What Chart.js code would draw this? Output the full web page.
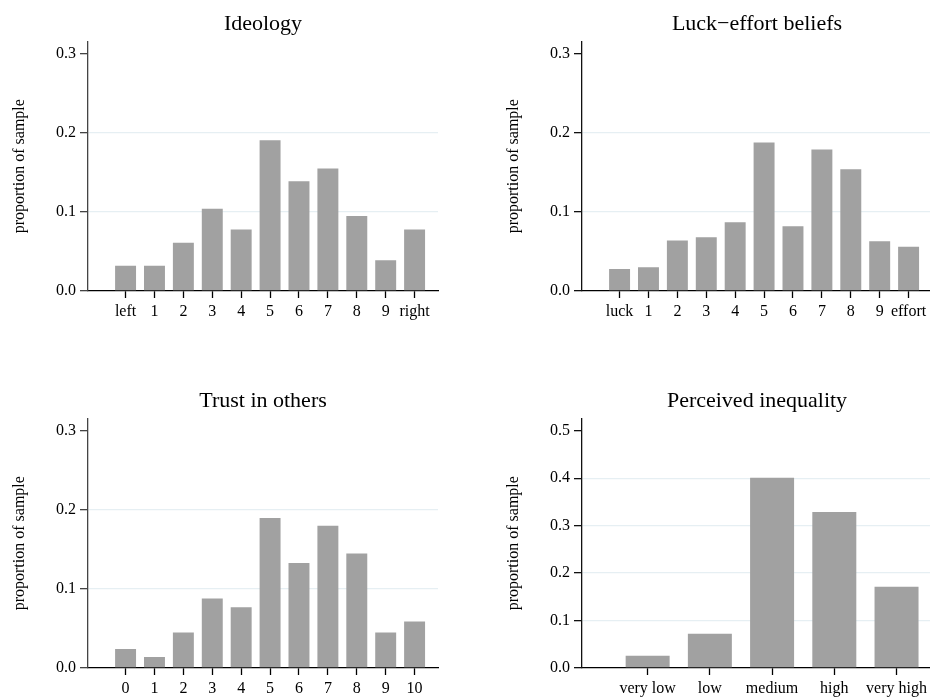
<!DOCTYPE html>
<html>
<head>
<meta charset="utf-8">
<script src="https://cdn.jsdelivr.net/npm/chart.js@4/dist/chart.umd.min.js"></script>
<style>
	html, body { margin: 0; padding: 0; background: #fff; overflow: hidden; }
	body { width: 930px; height: 698px; position: relative; }
	canvas { position: absolute; }
</style>
</head>
<body>
<canvas id="ideology" width="465" height="330" style="left:0px;top:0px;width:465px;height:330px"></canvas>
<canvas id="luckEffort" width="465" height="330" style="left:494px;top:0px;width:465px;height:330px"></canvas>
<canvas id="trust" width="465" height="330" style="left:0px;top:377px;width:465px;height:330px"></canvas>
<canvas id="inequality" width="465" height="330" style="left:494px;top:377px;width:465px;height:330px"></canvas>

<script>
// categories
const ideologyLabels = ['left', '1', '2', '3', '4', '5', '6', '7', '8', '9', 'right'];
const luckEffortLabels = ['luck', '1', '2', '3', '4', '5', '6', '7', '8', '9', 'effort'];
const trustLabels = ['0', '1', '2', '3', '4', '5', '6', '7', '8', '9', '10'];
const inequalityLabels = ['very low', 'low', 'medium', 'high', 'very high'];

// proportion of sample
const ideologyValues = [0.032, 0.032, 0.061, 0.104, 0.078, 0.191, 0.139, 0.155, 0.095, 0.039, 0.078];
const luckEffortValues = [0.028, 0.030, 0.064, 0.068, 0.087, 0.188, 0.082, 0.179, 0.154, 0.063, 0.056];
const trustValues = [0.024, 0.014, 0.045, 0.088, 0.077, 0.190, 0.133, 0.180, 0.145, 0.045, 0.059];
const inequalityValues = [0.026, 0.072, 0.401, 0.329, 0.171];

// y tick labels
const smallTicks = [0, 0.1, 0.2, 0.3];
const bigTicks = [0, 0.1, 0.2, 0.3, 0.4, 0.5];

const FONT = "'Liberation Serif', 'DejaVu Serif', serif";
const BAR = '#a1a1a1';

function makeChart(id, title, labels, values, yTicks, opts)
{
	const topTick = yTicks[yTicks.length - 1];
	new Chart(document.getElementById(id), {
		type: 'bar',
		data: {
			datasets: [{
				data: values.map((v, i) => ({ x: i, y: v })),
				backgroundColor: BAR,
				borderWidth: 0,
				barPercentage: opts.barPct,
				categoryPercentage: 1
			}]
		},
		options: {
			responsive: false,
			animation: false,
			events: [],
			layout: { padding: { left: 0, right: 27, top: 0, bottom: 0 } },
			plugins: {
				legend: { display: false },
				tooltip: { enabled: false },
				title: {
					display: true,
					text: title,
					fullSize: false,
					color: '#000',
					font: { family: FONT, size: 22, weight: 'normal' },
					padding: { top: 11, bottom: 4 }
				}
			},
			scales: {
				x: {
					type: 'linear',
					offset: false,
					min: opts.xMin,
					max: opts.xMax,
					afterBuildTicks: function(scale) {
						scale.ticks = labels.map((l, i) => ({ value: i }));
					},
					afterFit: function(scale) { scale.height = 39; },
					ticks: {
						autoSkip: false,
						maxRotation: 0,
						padding: 4,
						color: '#000',
						font: { family: FONT, size: 16 },
						callback: function(value) { return labels[value]; }
					},
					grid: {
						offset: false,
						drawOnChartArea: false,
						drawTicks: true,
						tickLength: 7,
						tickColor: '#000',
						tickWidth: 1.3
					},
					border: { display: true, color: '#000', width: 1.3 }
				},
				y: {
					min: 0,
					max: opts.yMax,
					afterBuildTicks: function(scale) {
						scale.ticks = yTicks.map(v => ({ value: v }));
					},
					afterFit: function(scale) { scale.width = 88; },
					ticks: {
						padding: 4,
						color: '#000',
						font: { family: FONT, size: 16 },
						callback: function(value) { return value.toFixed(1); }
					},
					grid: {
						color: function(ctx) {
							const v = ctx.tick ? ctx.tick.value : 0;
							return (v > 0 && v < topTick) ? '#e6eff3' : 'rgba(0,0,0,0)';
						},
						lineWidth: 1.3,
						tickLength: 8,
						tickColor: opts.axisColor,
						tickWidth: 1.3
					},
					border: { display: true, color: opts.axisColor, width: 1.3 },
					title: {
						display: true,
						text: 'proportion of sample',
						color: '#000',
						font: { family: FONT, size: 16 },
						padding: { top: 10, bottom: 0 }
					}
				}
			}
		}
	});
}

makeChart('ideology', 'Ideology', ideologyLabels, ideologyValues, smallTicks,
	{ xMin: -1.3, xMax: 10.81, yMax: 0.316, barPct: 0.725, axisColor: '#444' });
makeChart('luckEffort', 'Luck\u2212effort beliefs', luckEffortLabels, luckEffortValues, smallTicks,
	{ xMin: -1.3, xMax: 10.81, yMax: 0.316, barPct: 0.725, axisColor: '#111' });
makeChart('trust', 'Trust in others', trustLabels, trustValues, smallTicks,
	{ xMin: -1.3, xMax: 10.81, yMax: 0.316, barPct: 0.725, axisColor: '#444' });
makeChart('inequality', 'Perceived inequality', inequalityLabels, inequalityValues, bigTicks,
	{ xMin: -1.055, xMax: 4.57, yMax: 0.526, barPct: 0.707, axisColor: '#111' });
</script>
</body>
</html>
